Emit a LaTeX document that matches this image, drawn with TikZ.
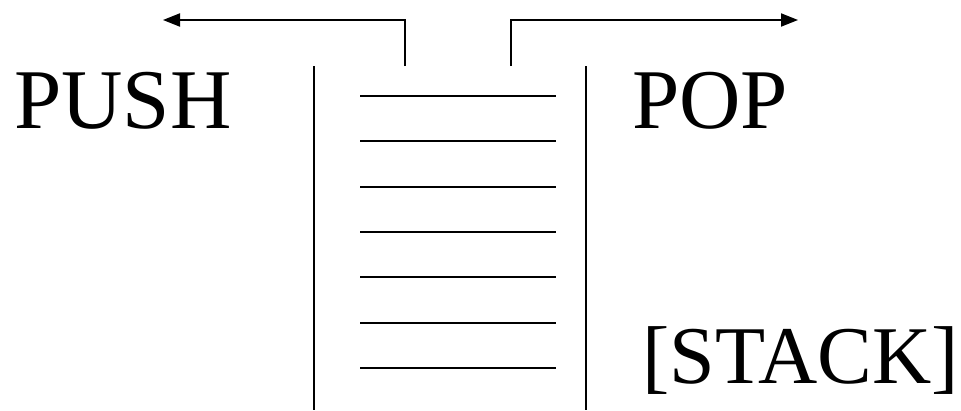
\documentclass[tikz,border=0pt]{standalone}
\usepackage{fontspec}
\setmainfont{Liberation Serif}
\usetikzlibrary{arrows.meta}
\begin{document}
\begin{tikzpicture}[x=1pt,y=-1pt,
  wall/.style={line width=2pt},
  slot/.style={line width=2pt},
  flow/.style={line width=2pt,-{Triangle[length=17pt,width=13pt]}},
  label/.style={font=\fontsize{85}{90}\selectfont,inner sep=0pt,anchor=base west}]
\useasboundingbox (0,0) rectangle (961,410);
% walls
\coordinate (lwt) at (314,66);
\coordinate (lwb) at (314,410);
\coordinate (rwt) at (586,66);
\coordinate (rwb) at (586,410);
\draw[wall] (lwt) -- (lwb);
\draw[wall] (rwt) -- (rwb);
% slots
\foreach \i in {0,...,6}{
  \coordinate (s\i a) at (360,{96+45.33*\i});
  \coordinate (s\i b) at (556,{96+45.33*\i});
  \draw[slot] (s\i a) -- (s\i b);
}
% arrows
\coordinate (pushs) at (405,66);
\coordinate (pushc) at (405,20);
\coordinate (pushe) at (163,20);
\coordinate (pops) at (511,66);
\coordinate (popc) at (511,20);
\coordinate (pope) at (798,20);
\draw[flow] (pushs) -- (pushc) -- (pushe);
\draw[flow] (pops) -- (popc) -- (pope);
% labels
\node[label] (push) at (14,128) {PUSH};
\node[label] (pop) at (632,128) {POP};
\node[label,font=\fontsize{82}{90}\selectfont] (stack) at (642,383) {[STACK]};
\end{tikzpicture}
\end{document}
